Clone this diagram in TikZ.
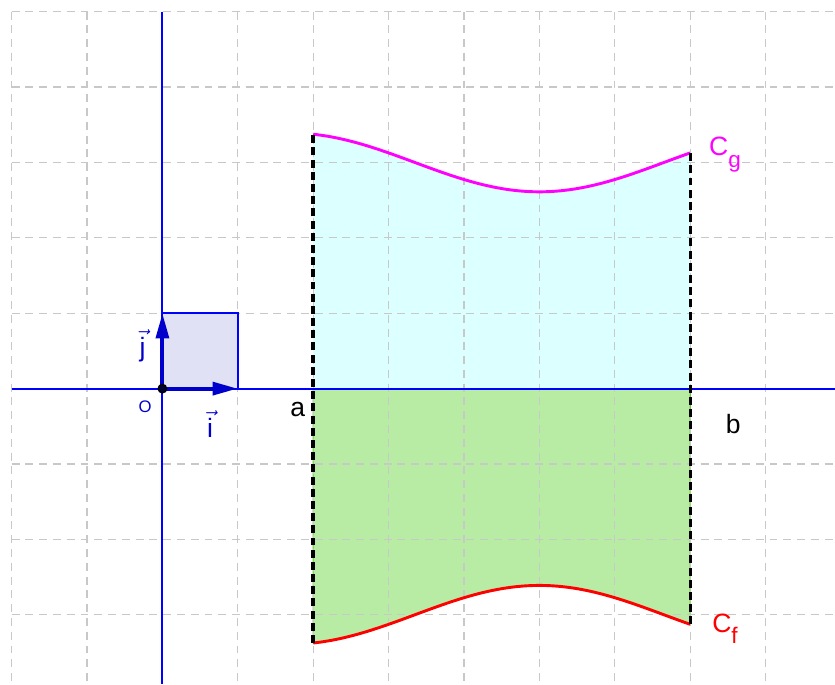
\documentclass[tikz,border=0pt]{standalone}
\usepackage{fontspec}
\setmainfont{Liberation Sans}
\usetikzlibrary{arrows.meta}
\definecolor{gridgray}{HTML}{C8C8C8}
\definecolor{axisblue}{HTML}{0000FF}
\definecolor{vecblue}{HTML}{0000CC}
\definecolor{sqfill}{HTML}{E1E1F6}
\definecolor{cyanfill}{HTML}{DCFFFF}
\definecolor{greenfill}{HTML}{B8EBA4}
\definecolor{greenedge}{HTML}{66CC33}
\definecolor{cgcol}{HTML}{FF00FF}
\definecolor{cfcol}{HTML}{FF0000}
\begin{document}
\begin{tikzpicture}[x=1cm,y=1cm,
  declare function={gg(\x)=3-0.39*cos(deg(0.95*(\x-5)));ff(\x)=-3+0.39*cos(deg(0.95*(\x-5)));},
  gridline/.style={gridgray, line width=0.5pt, dash pattern=on 3pt off 2.2pt},
  axisline/.style={axisblue, line width=0.8pt},
  vecarrow/.style={vecblue, line width=1.5pt, -{Triangle[length=9.5pt,width=4.8pt]}},
  curvestyle/.style={line width=1.1pt, smooth, samples=100},
  bound/.style={black, line width=1.3pt, dash pattern=on 3pt off 1.6pt},
  lbl/.style={inner sep=0pt, font=\fontsize{10}{12}\selectfont},
  sublbl/.style={font=\fontsize{8.5}{10}\selectfont}
]
\useasboundingbox (-2.154,-3.918) rectangle (8.920,5.154);
% named points
\coordinate (O) at (0,0);
\coordinate (I) at (1,0);
\coordinate (J) at (0,1);
\coordinate (A) at (2,0);
\coordinate (B) at (7,0);
\coordinate (ga) at (2,{gg(2)});
\coordinate (gb) at (7,{gg(7)});
\coordinate (fa) at (2,{ff(2)});
\coordinate (fb) at (7,{ff(7)});
% fills
\fill[cyanfill] (A) -- plot[domain=2:7, smooth, samples=100] (\x,{gg(\x)}) -- (B) -- cycle;
\filldraw[fill=greenfill, draw=greenedge, line width=0.4pt] (A) -- plot[domain=2:7, smooth, samples=100] (\x,{ff(\x)}) -- (B) -- cycle;
% grid
\foreach \gx in {-2,-1,1,2,3,4,5,6,7,8} \draw[gridline] (\gx,5) -- (\gx,-3.918);
\foreach \gy in {-3,-2,-1,1,2,3,4,5} \draw[gridline] (-2,\gy) -- (8.92,\gy);
% unit square
\filldraw[fill=sqfill, draw=axisblue, line width=0.6pt] (O) rectangle (1,1);
% axes
\draw[axisline] (-2,0) -- (8.92,0);
\draw[axisline] (0,5) -- (0,-3.918);
% curves
\draw[cgcol, curvestyle] plot[domain=2:7] (\x,{gg(\x)});
\draw[cfcol, curvestyle] plot[domain=2:7] (\x,{ff(\x)});
% bounds
\draw[bound] (fa) -- (ga);
\draw[bound] (fb) -- (gb);
% vectors
\draw[vecarrow] (O) -- (I);
\draw[vecarrow] (O) -- (J);
\filldraw[fill=black!80!blue, draw=black, line width=0.5pt] (O) circle (1.6pt);
% labels
\node[lbl, anchor=base, text=vecblue, font=\fontsize{6.3}{8}\selectfont] (lO) at (-0.231,-0.314) {O};
\node[lbl, anchor=base, text=vecblue] (li) at (0.631,-0.642) {$\vec{\mbox{i}}$};
\node[lbl, anchor=base, text=vecblue] (lj) at (-0.264,0.427) {$\vec{\mbox{j}}$};
\node[lbl, anchor=base] (la) at (1.796,-0.373) {a};
\node[lbl, anchor=base] (lb) at (7.572,-0.589) {b};
\node[lbl, anchor=base west, text=cgcol] (lCg) at (7.245,3.098) {C\raisebox{-4.8pt}{\fontsize{8.5}{10}\selectfont g}};
\node[lbl, anchor=base west, text=cfcol] (lCf) at (7.285,-3.228) {C\raisebox{-4.3pt}{\fontsize{8.5}{10}\selectfont f}};
\end{tikzpicture}
\end{document}
